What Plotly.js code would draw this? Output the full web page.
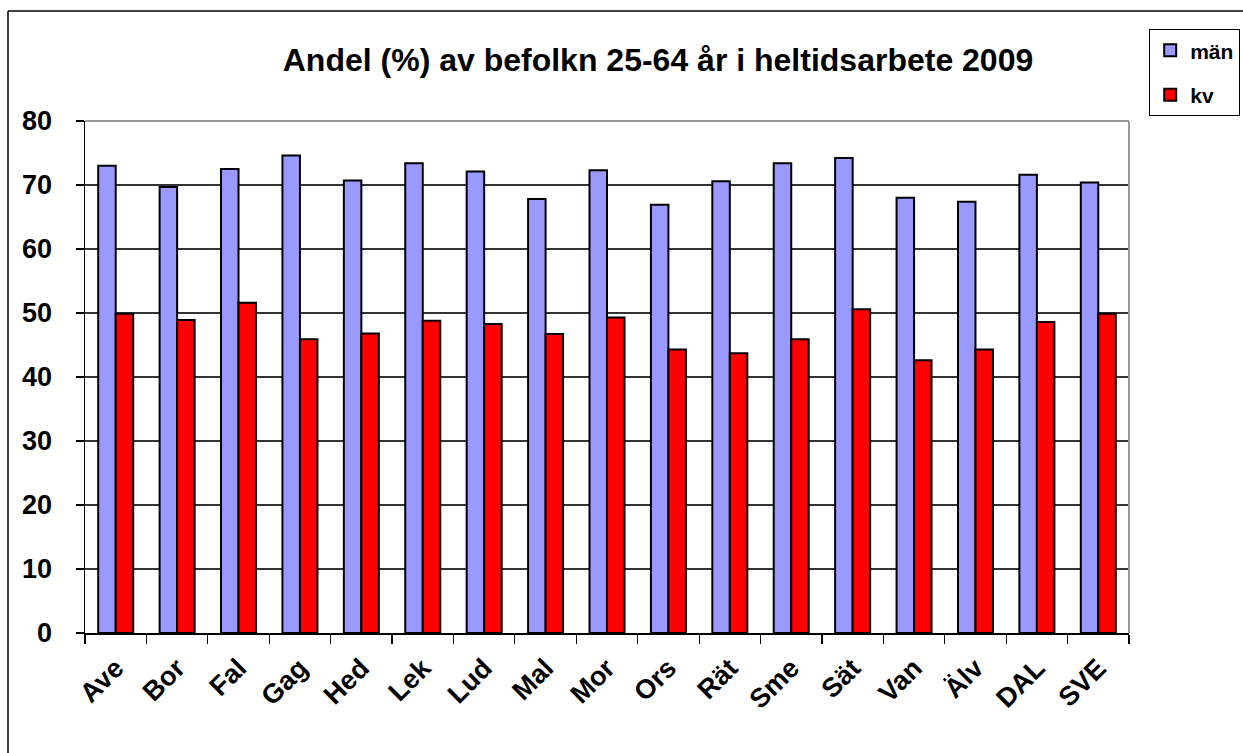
<!DOCTYPE html>
<html>
<head>
<meta charset="utf-8">
<script src="https://cdn.plot.ly/plotly-3.0.1.min.js"></script>
<style>
  html, body { margin: 0; padding: 0; background: #fff; }
  #chart { width: 1243px; height: 753px; }
</style>
</head>
<body>
<div id="chart"></div>
<script>
const categories = ["Ave","Bor","Fal","Gag","Hed","Lek","Lud","Mal","Mor","Ors","Rät","Sme","Sät","Van","Älv","DAL","SVE"];
const manValues = [73.0, 69.7, 72.5, 74.6, 70.7, 73.4, 72.1, 67.8, 72.3, 66.9, 70.6, 73.4, 74.2, 68.0, 67.4, 71.6, 70.4];
const kvValues  = [49.9, 48.9, 51.6, 45.9, 46.8, 48.8, 48.3, 46.7, 49.3, 44.3, 43.7, 45.9, 50.6, 42.6, 44.3, 48.6, 49.9];
const yTicks = [0, 10, 20, 30, 40, 50, 60, 70, 80];

const FONT = "Liberation Sans, Arial, sans-serif";

const traces = [
  {
    type: "bar", name: "män", x: categories, y: manValues,
    marker: { color: "#9999FF", line: { color: "#000000", width: 2 } },
    legendgroup: "a", hoverinfo: "x+y"
  },
  {
    type: "bar", name: "kv", x: categories, y: kvValues,
    marker: { color: "#FF0000", line: { color: "#000000", width: 2 } },
    legendgroup: "b", hoverinfo: "x+y"
  }
];

const L = 85, R = 1129, T = 121, B = 633, W = 1243, H = 753;
const px2x = p => (p - L) / (R - L);
const px2y = p => (B - p) / (B - T);

const layout = {
  width: W, height: H,
  margin: { l: L, r: W - R, t: T, b: H - B, pad: 0 },
  paper_bgcolor: "#ffffff",
  plot_bgcolor: "#ffffff",
  font: { family: FONT, color: "#000000" },
  title: {
    text: "<b>Andel (%) av befolkn 25-64 år i heltidsarbete 2009</b>",
    font: { family: FONT, size: 32, color: "#000000" },
    x: 658 / W, xanchor: "center", xref: "container",
    y: 1 - 60 / H, yanchor: "middle", yref: "container"
  },
  barmode: "group",
  bargap: 0.43,
  bargroupgap: 0,
  xaxis: {
    type: "category",
    tickson: "boundaries",
    ticks: "outside", ticklen: 9, tickwidth: 1.2, tickcolor: "#000000",
    tickangle: -45,
    tickfont: { family: FONT, size: 27, color: "#000000", weight: "bold" },
    showline: true, linecolor: "#000000", linewidth: 1.5,
    showgrid: false, zeroline: false,
    ticklabelstandoff: 7
  },
  yaxis: {
    range: [0, 80],
    tickvals: yTicks,
    ticktext: yTicks.map(String),
    ticks: "outside", ticklen: 8, tickwidth: 1.2, tickcolor: "#000000",
    tickfont: { family: FONT, size: 27, color: "#000000", weight: "bold" },
    showline: true, linecolor: "#000000", linewidth: 1.5,
    showgrid: true, gridcolor: "#333333", gridwidth: 1.2,
    zeroline: false,
    ticklabelstandoff: 18
  },
  showlegend: true,
  legend: {
    x: 1240 / W, xanchor: "right", xref: "container",
    y: px2y(29), yanchor: "top",
    bgcolor: "#ffffff",
    bordercolor: "#000000", borderwidth: 1.2,
    font: { family: FONT, size: 21, color: "#000000", weight: "bold" },
    traceorder: "grouped",
    tracegroupgap: 14,
    itemwidth: 30
  },
  shapes: [
    { type: "line", xref: "paper", yref: "paper", x0: 0, x1: 1, y0: 1, y1: 1,
      line: { color: "#999999", width: 2 } },
    { type: "line", xref: "paper", yref: "paper", x0: 1, x1: 1, y0: 0, y1: 1,
      line: { color: "#999999", width: 2 } },
    { type: "line", xref: "paper", yref: "paper", x0: px2x(8), x1: px2x(8), y0: px2y(11), y1: px2y(770),
      line: { color: "#000000", width: 1.5 } },
    { type: "line", xref: "paper", yref: "paper", x0: px2x(8), x1: px2x(1260), y0: px2y(11), y1: px2y(11),
      line: { color: "#000000", width: 1.5 } }
  ]
};

Plotly.newPlot("chart", traces, layout, { displayModeBar: false, staticPlot: true });
</script>
</body>
</html>
